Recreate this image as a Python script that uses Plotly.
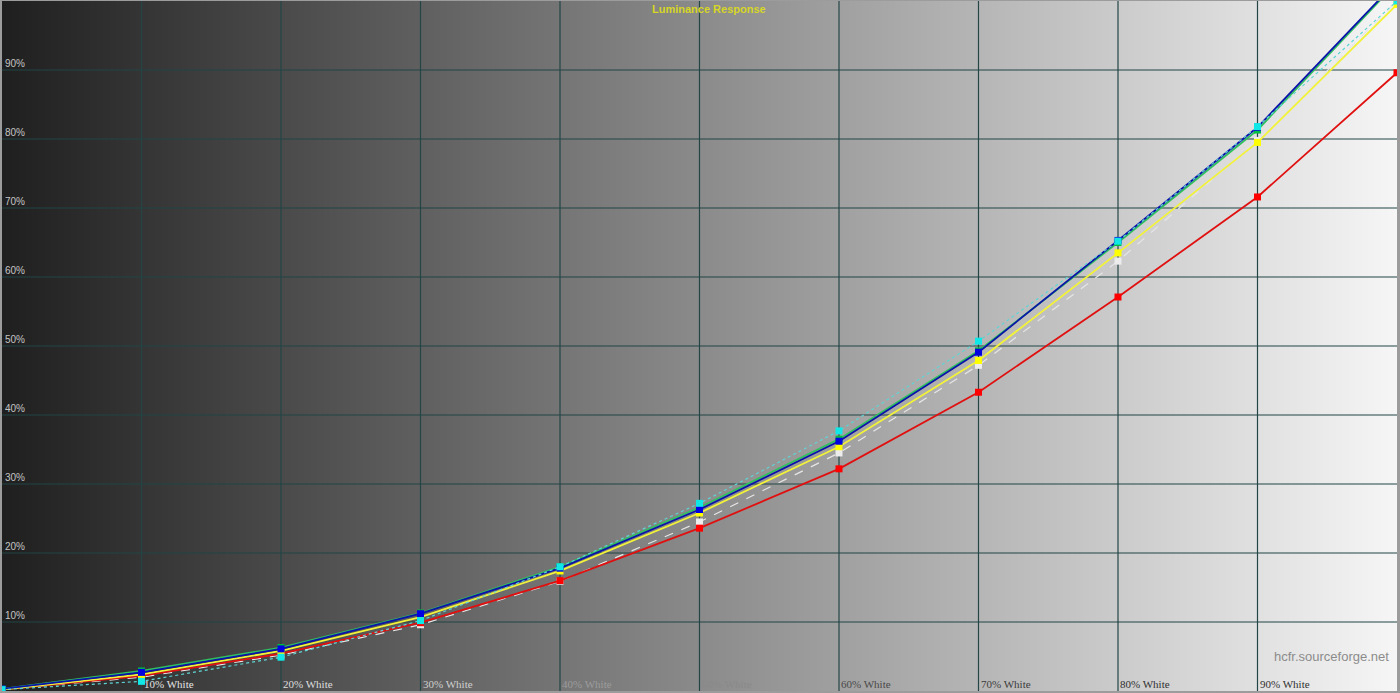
import numpy as np
import plotly.graph_objects as go

# ---- data ----
levels = [0, 10, 20, 30, 40, 50, 60, 70, 80, 90, 100]
reference = [0.2, 2.0, 5.2, 9.6, 15.9, 24.5, 34.5, 47.2, 62.3, 79.8, 100.0]
cyan_ref = [0.2, 1.4, 4.9, 10.2, 18.0, 27.2, 37.7, 50.7, 65.2, 81.8, 100.0]
red = [0.2, 2.2, 5.4, 9.9, 16.0, 23.6, 32.2, 43.3, 57.1, 71.6, 89.6]
green = [0.3, 2.9, 6.3, 11.3, 18.0, 26.6, 36.5, 49.3, 65.0, 81.3, 102.7]
blue = [0.3, 2.7, 6.1, 11.2, 17.8, 26.3, 36.2, 49.1, 65.3, 81.7, 102.9]
yellow = [0.2, 2.4, 5.8, 10.7, 17.4, 25.8, 35.4, 47.9, 63.5, 79.5, 99.5]

y_ticks = [10, 20, 30, 40, 50, 60, 70, 80, 90]
y_labels = ["10%", "20%", "30%", "40%", "50%", "60%", "70%", "80%", "90%"]
x_ticks = [10, 20, 30, 40, 50, 60, 70, 80, 90]
x_labels = ["10% White", "20% White", "30% White", "40% White", "50% White",
            "60% White", "70% White", "80% White", "90% White"]
x_label_colors = ["#e4e4e4", "#dedede", "#cfcfcf", "#9c9c9c", "#8a8a8a",
                  "#4a4a4a", "#3c3c3c", "#303030", "#303030"]

fig = go.Figure()

# background gradient
gx = np.linspace(0, 100, 201)
fig.add_trace(go.Heatmap(
    x=gx, y=[0, 100], z=[gx, gx], zsmooth="best", showscale=False,
    colorscale=[[0, "#1f1f1f"], [1, "#f6f6f6"]], hoverinfo="skip"))

# grid lines (drawn above the gradient)
grid_color = "#234545"
vx, vy = [], []
for t in x_ticks:
    vx += [t, t, None]
    vy += [0, 100, None]
hx, hy = [], []
for t in y_ticks:
    hx += [0, 100, None]
    hy += [t, t, None]
fig.add_trace(go.Scatter(x=vx + hx, y=vy + hy, mode="lines",
                         line=dict(color=grid_color, width=1.2),
                         showlegend=False, hoverinfo="skip"))

def add(vals, color, width, dash, mcolor, msize=7):
    fig.add_trace(go.Scatter(
        x=levels, y=vals, mode="lines+markers",
        line=dict(color=color, width=width, dash=dash),
        marker=dict(symbol="square", size=msize, color=mcolor),
        showlegend=False, cliponaxis=True))

add(reference, "#e6e6e6", 1.2, "dash", "#ececec")
add(red, "#e01010", 1.8, "solid", "#ff0000")
add(yellow, "#f2f23a", 1.8, "solid", "#ffff00")
add(green, "#30c060", 1.8, "solid", "#00c040")
add(blue, "#0a14a8", 1.8, "solid", "#0000e0")
add(cyan_ref, "#60d4d4", 1.2, "dot", "#10e8e8")

annotations = []
for v, t in zip(y_ticks, y_labels):
    annotations.append(dict(x=0, y=v, xref="x", yref="y", text=t, showarrow=False,
                            xanchor="left", yanchor="bottom", xshift=1, yshift=-1,
                            font=dict(family="Liberation Sans", size=10, color="#c4c4c4")))
for v, t, c in zip(x_ticks, x_labels, x_label_colors):
    annotations.append(dict(x=v, y=0, xref="x", yref="y", text=t, showarrow=False,
                            xanchor="left", yanchor="bottom", xshift=0, yshift=-1,
                            font=dict(family="Liberation Serif", size=11, color=c)))
annotations.append(dict(x=0.507, y=1, xref="paper", yref="paper", text="<b>Luminance Response</b>",
                        showarrow=False, xanchor="center", yanchor="top", yshift=0,
                        font=dict(family="Liberation Sans", size=11, color="#d6d626")))
annotations.append(dict(x=1, y=0.05, xref="paper", yref="paper", text="hcfr.sourceforge.net",
                        showarrow=False, xanchor="right", yanchor="middle", xshift=-6,
                        font=dict(family="Liberation Sans", size=13, color="#8c8c8c")))

fig.update_layout(
    width=1400, height=693,
    margin=dict(l=2, r=3, t=1, b=2),
    paper_bgcolor="#9c9c9c", plot_bgcolor="#1f1f1f",
    annotations=annotations,
    xaxis=dict(range=[0, 100], showticklabels=False, showgrid=False,
               zeroline=False, showline=False),
    yaxis=dict(range=[0, 100], showticklabels=False, showgrid=False,
               zeroline=False, showline=False),
    hovermode=False,
)

fig.write_html("out.html", config={"displayModeBar": False},
               post_script="document.body.style.margin='0';document.body.style.overflow='hidden';")
